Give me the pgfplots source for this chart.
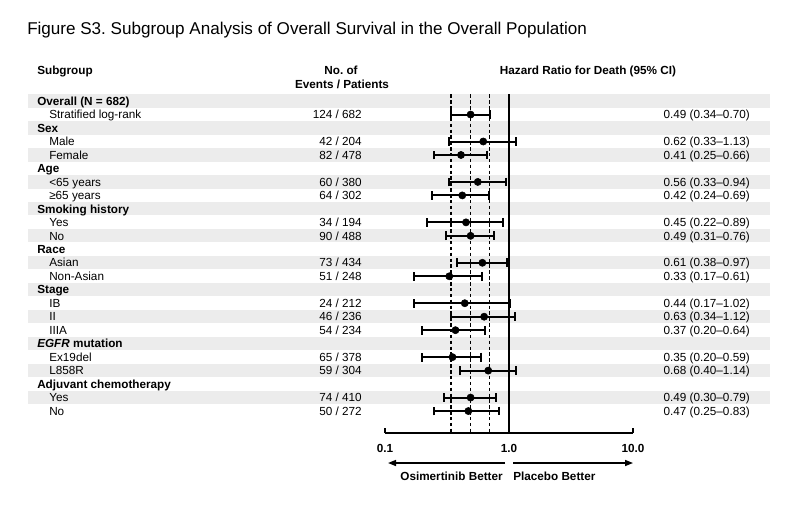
\documentclass[border=0pt]{standalone}
\usepackage{pgfplots}
\pgfplotsset{compat=1.18}
\usepackage{pgfplotstable}
\usepackage{fontspec}
\setmainfont{Liberation Sans}
\usetikzlibrary{arrows.meta}
\newcommand\bodyfont{\fontsize{8.8}{10.5}\selectfont}
\frenchspacing

\pgfplotstableread{
row hr lo hi
2 0.49 0.34 0.70
4 0.62 0.33 1.13
5 0.41 0.25 0.66
7 0.56 0.33 0.94
8 0.42 0.24 0.69
10 0.45 0.22 0.89
11 0.49 0.31 0.76
13 0.61 0.38 0.97
14 0.33 0.17 0.61
16 0.44 0.17 1.02
17 0.63 0.34 1.12
18 0.37 0.20 0.64
20 0.35 0.20 0.59
21 0.68 0.40 1.14
23 0.49 0.30 0.79
24 0.47 0.25 0.83
}\hrdata

\begin{document}
\begin{tikzpicture}[x=0.75pt,y=-0.75pt]
\path[use as bounding box] (0,0) rectangle (798,514);
% alternating bands
\foreach \r in {1,3,...,23}
  \fill[gray!15] (28,{100.9+(\r-1)*13.48-6.74}) rectangle (770,{100.9+(\r-1)*13.48+6.74});

\begin{axis}[
  at={(288.75pt,-324.75pt)}, anchor=south west,
  scale only axis, width=186pt, height=254pt,
  xmode=log, xmin=0.1, xmax=10, ymin=-25.63, ymax=-0.5,
  axis x line=bottom, axis y line=none,
  x axis line style={-, line width=1.1pt},
  xtick={0.1,1,10}, xticklabels={0.1,1.0,10.0},
  xminorticks=false, ytick=\empty,
  tick align=inside, major tick length=3.5pt,
  tick style={line width=1.1pt, black},
  xticklabel style={font=\bfseries\bodyfont, yshift=-5pt},
  clip=false,
]
\addplot[black, line width=1pt, dash pattern=on 2.6pt off 1.8pt] coordinates {(0.34,-0.5) (0.34,-25.63)};
\addplot[black, line width=1pt, dash pattern=on 2.6pt off 1.8pt] coordinates {(0.49,-0.5) (0.49,-25.63)};
\addplot[black, line width=1pt, dash pattern=on 2.6pt off 1.8pt] coordinates {(0.70,-0.5) (0.70,-25.63)};
\addplot[black, line width=1.1pt] coordinates {(1,-0.5) (1,-25.63)};
\addplot[only marks, mark=*, mark size=2.7pt, black,
  error bars/.cd, x dir=both, x explicit, error mark=|,
  error bar style={line width=1.5pt, solid},
  error mark options={line width=1.5pt, mark size=3.3pt, solid}]
  table[x=hr, y expr=-\thisrow{row},
        x error plus expr=\thisrow{hi}-\thisrow{hr},
        x error minus expr=\thisrow{hr}-\thisrow{lo}] \hrdata;
\end{axis}

% title
\node[anchor=base west, inner sep=0, font=\fontsize{12.8}{15}\selectfont] at (27,34)
  {Figure S3. Subgroup Analysis of Overall Survival in the Overall Population};
% column headers
\node[anchor=base west, inner sep=0, font=\bfseries\bodyfont] at (37,74) {Subgroup};
\node[anchor=base, inner sep=0, font=\bfseries\bodyfont] at (341,74) {No. of};
\node[anchor=base, inner sep=0, font=\bfseries\bodyfont] at (342,88) {Events / Patients};
\node[anchor=base, inner sep=0, font=\bfseries\bodyfont] at (588,74) {Hazard Ratio for Death (95\% CI)};

% group headers
\foreach \r/\lab in {1/{Overall (N = 682)},3/Sex,6/Age,9/Smoking history,12/Race,15/Stage,19/{\textit{EGFR} mutation},22/Adjuvant chemotherapy}
  \node[anchor=base west, inner sep=0, font=\bfseries\bodyfont] at (37,{100.9+(\r-1)*13.48+4.3}) {\lab};

% subgroup rows
\foreach \r/\lab/\ev/\pt/\hrt in {
  2/Stratified log-rank/124/682/{0.49 (0.34–0.70)},
  4/Male/42/204/{0.62 (0.33–1.13)},
  5/Female/82/478/{0.41 (0.25–0.66)},
  7/{<65 years}/60/380/{0.56 (0.33–0.94)},
  8/{≥65 years}/64/302/{0.42 (0.24–0.69)},
  10/Yes/34/194/{0.45 (0.22–0.89)},
  11/No/90/488/{0.49 (0.31–0.76)},
  13/Asian/73/434/{0.61 (0.38–0.97)},
  14/Non-Asian/51/248/{0.33 (0.17–0.61)},
  16/IB/24/212/{0.44 (0.17–1.02)},
  17/II/46/236/{0.63 (0.34–1.12)},
  18/IIIA/54/234/{0.37 (0.20–0.64)},
  20/Ex19del/65/378/{0.35 (0.20–0.59)},
  21/L858R/59/304/{0.68 (0.40–1.14)},
  23/Yes/74/410/{0.49 (0.30–0.79)},
  24/No/50/272/{0.47 (0.25–0.83)}}
{
  \node[anchor=base west, inner sep=0, font=\bodyfont] at (49,{100.9+(\r-1)*13.48+4.3}) {\lab};
  \node[anchor=base east, inner sep=0, font=\bodyfont] at (362,{100.9+(\r-1)*13.48+4.3}) {\ev{} / \pt};
  \node[anchor=base east, inner sep=0, font=\bodyfont] at (750,{100.9+(\r-1)*13.48+4.3}) {\hrt};
}

% direction arrows
\draw[line width=1.1pt, -{Triangle[length=6pt,width=4.5pt]}] (505,463) -- (388,463);
\draw[line width=1.1pt, -{Triangle[length=6pt,width=4.5pt]}] (513,463) -- (633,463);
\node[anchor=base east, inner sep=0, font=\bfseries\bodyfont] at (503,480) {Osimertinib Better};
\node[anchor=base west, inner sep=0, font=\bfseries\bodyfont] at (513,480) {Placebo Better};
\end{tikzpicture}
\end{document}
